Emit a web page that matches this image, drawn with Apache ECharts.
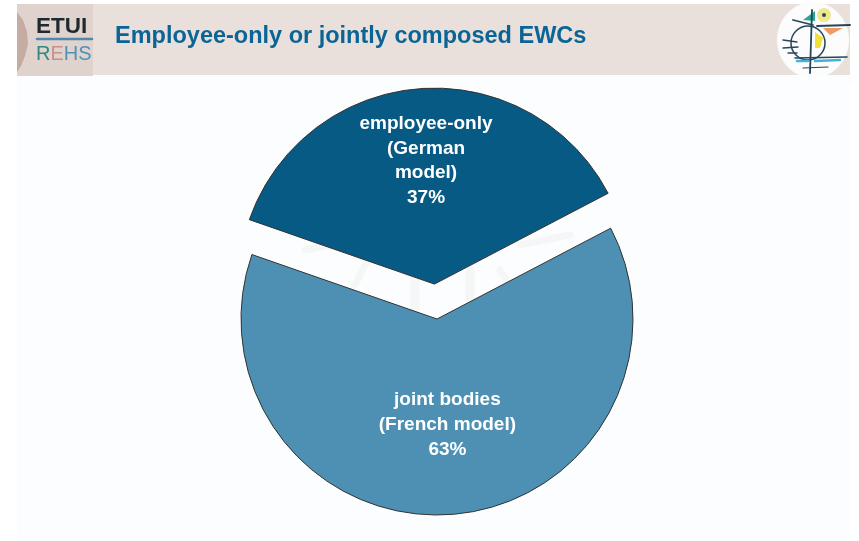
<!DOCTYPE html>
<html><head><meta charset="utf-8">
<style>html,body{margin:0;padding:0;background:#fff}#c{width:859px;height:541px}</style>
<script src="https://cdn.jsdelivr.net/npm/echarts@6/dist/echarts.min.js"></script>
</head><body><div id="c"></div>
<script>
const titleText = 'Employee-only or jointly composed EWCs';
const categories = ['employee-only\n(German\nmodel)', 'joint bodies\n(French model)'];
const shares = [37, 63];
const sliceColors = ['#075a83', '#4d90b3'];
const labelShiftX = [-1, 3];
const labelShiftY = [-22.5, 5];

const chart = echarts.init(document.getElementById('c'), null, {renderer:'canvas'});
const stroke = (c,w)=>({stroke:c,lineWidth:w,fill:null,lineCap:'round'});
const seg = (x1,y1,x2,y2,c,w)=>({type:'line',z:2,shape:{x1,y1,x2,y2},style:stroke(c,w),silent:true});
const poly = (points,fill)=>({type:'polygon',z:2,shape:{points},style:{fill},silent:true});
chart.setOption({
  animation:false,
  backgroundColor:'#ffffff',
  graphic:[
    {type:'rect',z:0,shape:{x:17,y:75,width:833,height:466},style:{fill:'#fbfdff'},silent:true},
    {type:'rect',z:0,shape:{x:17,y:4,width:833,height:71},style:{fill:'#e9e0db'},silent:true},
    {type:'rect',z:0,shape:{x:17,y:4,width:76,height:72},style:{fill:'#e0d3ce'},silent:true},
    poly([[17,12],[23,20],[27,32],[28,44],[25,56],[21,66],[17,72]],'#c4aca3'),
    {type:'text',z:2,style:{x:36,y:15,text:'ETUI',font:'bold 22.5px "Liberation Sans"',fill:'#1e2a30'},silent:true},
    seg(37,39,92,39,'#4f87ad',2.5),
    {type:'text',z:2,style:{x:36,y:44,text:'{a|R}{b|E}{c|HS}',font:'20px "Liberation Sans"',
      rich:{a:{fill:'#2f8a80',font:'20px "Liberation Sans"'},b:{fill:'#c98f8a',font:'20px "Liberation Sans"'},c:{fill:'#4d93b8',font:'20px "Liberation Sans"'}}},silent:true},
    {type:'text',z:2,style:{x:115,y:25,text:titleText,font:'bold 23.5px "Liberation Sans"',fill:'#0a6496'},silent:true},
    {type:'ellipse',z:1,shape:{cx:813,cy:40,rx:36,ry:38},style:{fill:'#fbfcfb'},silent:true},
    {type:'rect',z:1,shape:{x:770,y:75,width:85,height:10},style:{fill:'#fbfdff'},silent:true},
    {type:'circle',z:2,shape:{cx:824,cy:15,r:7},style:{fill:'#f0e68c'},silent:true},
    {type:'circle',z:2,shape:{cx:824,cy:15,r:2},style:{fill:'#2a4a5a'},silent:true},
    poly([[803,20],[815,11],[815,21]],'#2aa593'),
    poly([[823,28],[843,28],[830,35]],'#ee9a62'),
    poly([[815,32],[823,38],[820,48],[815,48]],'#f2df3a'),
    {type:'circle',z:2,shape:{cx:808,cy:43,r:17},style:stroke('#24465a',1.5),silent:true},
    seg(812,10,810,73,'#24465a',1.8), seg(793,20,813,25,'#24465a',1.8), seg(817,26,850,25,'#24465a',1.8),
    seg(783,40,797,42,'#24465a',1.3), seg(783,48,798,47,'#24465a',1.3), seg(788,53,797,53,'#24465a',1.3),
    seg(795,58,847,57,'#24465a',1.6), seg(797,61,808,61,'#43b4d8',2.5), seg(815,61,840,60,'#43b4d8',2.5),
    seg(803,68,828,67,'#24465a',1.2),
    seg(305,250,330,245,'#f5f6f6',7), seg(375,245,355,285,'#f5f6f6',7), seg(415,280,415,310,'#f5f6f6',9),
    seg(470,270,470,310,'#f5f6f6',9), seg(500,270,520,300,'#f5f6f6',7), seg(520,245,570,235,'#f5f6f6',7)
  ],
  series:[{
    type:'pie',
    center:[437,319],
    radius:[0,196],
    startAngle:160.8,
    clockwise:true,
    selectedMode:'multiple',
    selectedOffset:35,
    avoidLabelOverlap:false,
    itemStyle:{borderColor:'#333',borderWidth:1},
    emphasis:{disabled:true},
    label:{position:'inside',color:'#fff',fontFamily:'Liberation Sans',fontWeight:'bold',fontSize:19,lineHeight:24.6,align:'center',
      formatter:p=>p.name+'\n'+p.value+'%'},
    labelLine:{show:false},
    labelLayout:p=>({dx:labelShiftX[p.dataIndex],dy:labelShiftY[p.dataIndex]}),
    data:categories.map((name,i)=>({name,value:shares[i],selected:i===0,itemStyle:{color:sliceColors[i]}}))
  }]
});
</script></body></html>
